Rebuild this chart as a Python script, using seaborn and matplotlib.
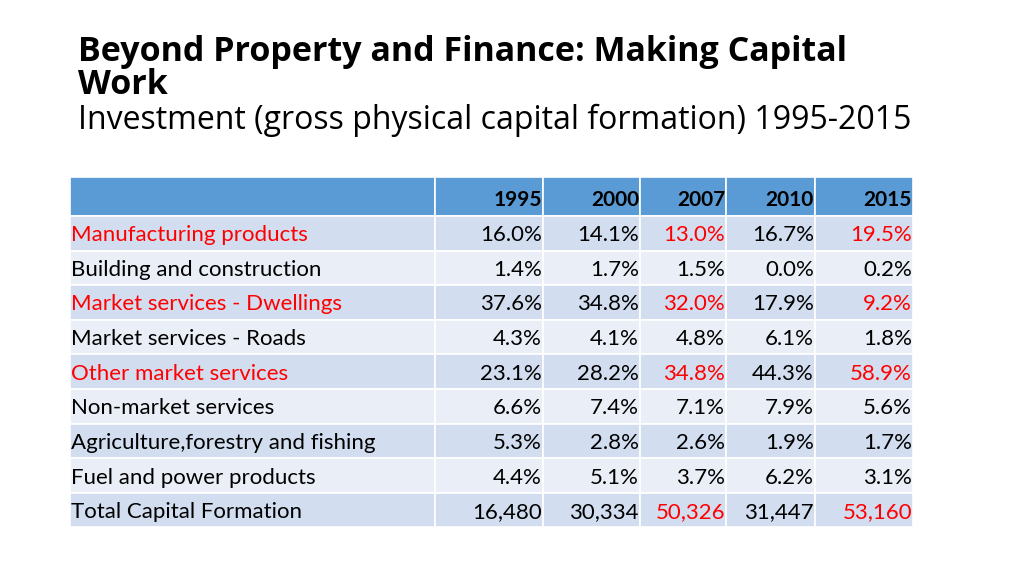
import matplotlib
matplotlib.use("Agg")
import seaborn as sns
from matplotlib import pyplot as plt
from matplotlib.patches import Rectangle

years = ['1995', '2000', '2007', '2010', '2015']
sectors = ['Manufacturing products', 'Building and construction', 'Market services - Dwellings',
           'Market services - Roads', 'Other market services', 'Non-market services',
           'Agriculture,forestry and fishing', 'Fuel and power products', 'Total Capital Formation']
v1995 = ['16.0%', '1.4%', '37.6%', '4.3%', '23.1%', '6.6%', '5.3%', '4.4%', '16,480']
v2000 = ['14.1%', '1.7%', '34.8%', '4.1%', '28.2%', '7.4%', '2.8%', '5.1%', '30,334']
v2007 = ['13.0%', '1.5%', '32.0%', '4.8%', '34.8%', '7.1%', '2.6%', '3.7%', '50,326']
v2010 = ['16.7%', '0.0%', '17.9%', '6.1%', '44.3%', '7.9%', '1.9%', '6.2%', '31,447']
v2015 = ['19.5%', '0.2%', '9.2%', '1.8%', '58.9%', '5.6%', '1.7%', '3.1%', '53,160']
red_rows = [0, 2, 4]
red_cols = [2, 4]

sns.set_theme(style='white')
plt.rcParams['font.family'] = ['Lato', 'DejaVu Sans']

fig = plt.figure(figsize=(10.24, 5.75), dpi=100)
ax = fig.add_axes([0, 0, 1, 1])
ax.set_xlim(0, 1024)
ax.set_ylim(575, 0)
ax.axis('off')

fig.text(78 / 1024, 1 - 52 / 575, 'Beyond Property and Finance: Making Capital', fontsize=24.5,
         fontweight='bold', family='Open Sans', va='center', color='black')
fig.text(78 / 1024, 1 - 85 / 575, 'Work', fontsize=24.5, fontweight='bold', family='Open Sans',
         va='center', color='black')
fig.text(78 / 1024, 1 - 120 / 575, 'Investment (gross physical capital formation) 1995-2015', fontsize=23,
         family='Open Sans', va='center', color='black')

col_edges = [70, 435, 543, 640, 726, 815, 913]
top, head_h, row_h = 177, 39, 34.6
red = '#FF0000'
fs = 16

# header
for c in range(6):
    ax.add_patch(Rectangle((col_edges[c], top), col_edges[c + 1] - col_edges[c], head_h,
                           facecolor='#5B9BD5', edgecolor='white', lw=1.2))
for c, y in enumerate(years):
    ax.text(col_edges[c + 2] - 1, top + head_h / 2 + 4, y, ha='right', va='center',
            fontsize=15, fontweight='bold', color='black')

columns = [v1995, v2000, v2007, v2010, v2015]
for r, name in enumerate(sectors):
    y0 = top + head_h + r * row_h
    fc = '#D2DEEF' if r % 2 == 0 else '#EAEFF7'
    for c in range(6):
        ax.add_patch(Rectangle((col_edges[c], y0), col_edges[c + 1] - col_edges[c], row_h,
                               facecolor=fc, edgecolor='white', lw=1.2))
    yc = y0 + row_h / 2 + 2
    ax.text(col_edges[0] + 1, yc, name, ha='left', va='center', fontsize=fs,
            color=red if r in red_rows else 'black')
    for c, vals in enumerate(columns):
        is_red = (r in red_rows or r == len(sectors) - 1) and c in red_cols
        ax.text(col_edges[c + 2] - 1, yc, vals[r], ha='right', va='center', fontsize=fs,
                color=red if is_red else 'black')

fig.savefig('out.png', dpi=100)
